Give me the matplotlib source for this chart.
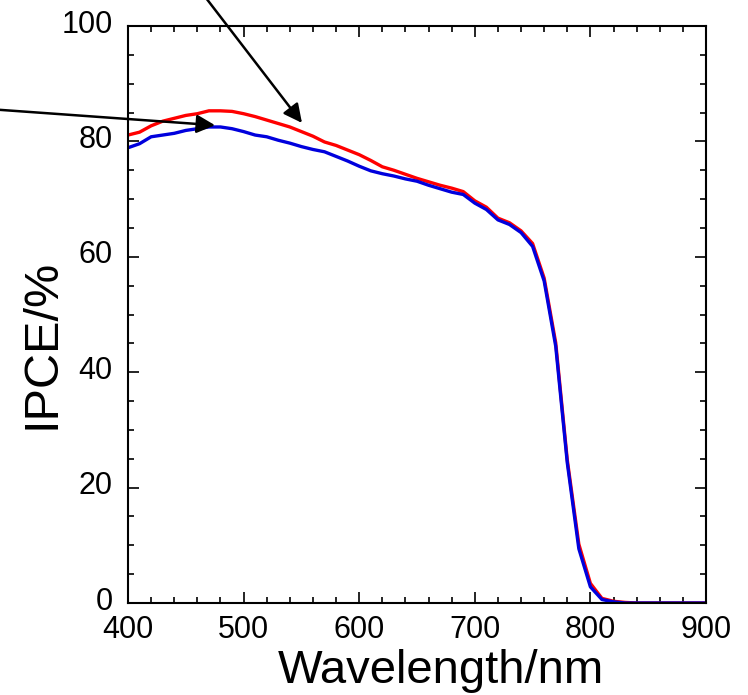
import matplotlib
matplotlib.use("Agg")
import matplotlib.pyplot as plt
import matplotlib.transforms as mtransforms
from matplotlib.ticker import MultipleLocator

wavelength = [400, 410, 420, 430, 440, 450, 460, 470, 480, 490,
              500, 510, 520, 530, 540, 550, 560, 570, 580, 590,
              600, 610, 620, 630, 640, 650, 660, 670, 680, 690,
              700, 710, 720, 730, 740, 750, 760, 770, 780, 790,
              800, 810, 820, 830, 840, 850, 860, 870, 880, 890, 900]

ipce_red = [81.1, 81.6, 82.7, 83.5, 84.0, 84.5, 84.8, 85.3, 85.3, 85.2,
            84.8, 84.3, 83.7, 83.1, 82.5, 81.7, 80.9, 79.9, 79.3, 78.5,
            77.7, 76.7, 75.6, 75.0, 74.3, 73.6, 73.0, 72.4, 71.9, 71.3,
            69.7, 68.6, 66.7, 65.9, 64.5, 62.3, 56.3, 45.1, 24.8, 10.2,
            3.4, 0.8, 0.3, 0.1, 0.0, 0.0, 0.0, 0.0, 0.0, 0.0, 0.0]

ipce_blue = [78.9, 79.6, 80.8, 81.1, 81.4, 81.9, 82.2, 82.5, 82.5, 82.2,
             81.7, 81.1, 80.8, 80.2, 79.7, 79.1, 78.6, 78.2, 77.4, 76.6,
             75.7, 74.9, 74.4, 74.0, 73.5, 73.1, 72.4, 71.8, 71.2, 70.8,
             69.3, 68.2, 66.4, 65.6, 64.2, 61.8, 55.8, 44.5, 24.3, 9.4,
             2.8, 0.6, 0.2, 0.0, 0.0, 0.0, 0.0, 0.0, 0.0, 0.0, 0.0]

xticks = [400, 500, 600, 700, 800, 900]
yticks = [0, 20, 40, 60, 80, 100]

plt.rcParams['font.family'] = ['Liberation Sans', 'DejaVu Sans']

fig = plt.figure(figsize=(7.48, 6.95), dpi=100)
ax = fig.add_axes([128/748, 1-603/695, (706-128)/748, (603-26)/695])

ax.plot(wavelength, ipce_red, color='#ff0000', lw=2.4)
ax.plot(wavelength, ipce_blue, color='#0000dd', lw=2.4)

ax.set_xlim(400, 900)
ax.set_ylim(0, 100)
ax.set_xticks(xticks)
ax.set_yticks(yticks)
ax.xaxis.set_minor_locator(MultipleLocator(20))
ax.yaxis.set_minor_locator(MultipleLocator(5))
ax.tick_params(which='both', direction='in', top=True, right=True, width=1.2, color='black')
ax.tick_params(which='major', length=8, labelsize=22)
ax.tick_params(axis='x', which='major', pad=9)
ax.tick_params(axis='y', which='major', pad=11)
ax.tick_params(which='minor', length=4.5)
for s in ax.spines.values():
    s.set_linewidth(1.5)

# reference y tick labels sit a few pixels above their ticks
shift = mtransforms.ScaledTranslation(0, 3.5/72, fig.dpi_scale_trans)
for lab in ax.get_yticklabels():
    lab.set_transform(lab.get_transform() + shift)

ax.set_xlabel('Wavelength/nm', fontsize=34)
ax.xaxis.label.set_va('baseline')
ax.xaxis.set_label_coords(0.542, (603-683)/577)
ax.set_ylabel('IPCE/%', fontsize=35)
ax.yaxis.label.set_va('baseline')
ax.yaxis.set_label_coords((55-128)/578, (603-343.5)/577)

arrow = dict(arrowstyle='-|>', color='black', lw=1.8, mutation_scale=28, shrinkA=0, shrinkB=0)
ax.annotate('', xy=(475.3, 82.8), xytext=(280, 85.6), arrowprops=arrow, annotation_clip=False)
ax.annotate('', xy=(550.5, 83.2), xytext=(465, 105.5), arrowprops=arrow, annotation_clip=False)

fig.savefig('out.png', dpi=100)
